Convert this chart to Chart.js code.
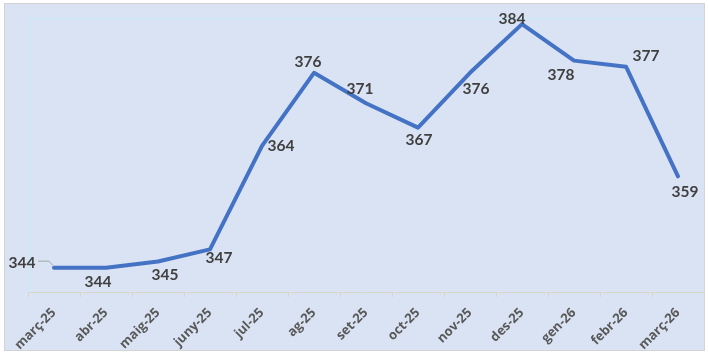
<!DOCTYPE html>
<html>
<head>
<meta charset="utf-8">
<script src="https://cdn.jsdelivr.net/npm/chart.js@4/dist/chart.umd.min.js"></script>
<style>
html,body{margin:0;padding:0;background:#ffffff;}
#wrap{width:709px;height:357px;position:relative;}
</style>
</head>
<body>
<div id="wrap"><canvas id="c" width="709" height="357"></canvas></div>
<script>
const categories = ['març-25','abr-25','maig-25','juny-25','jul-25','ag-25','set-25','oct-25','nov-25','des-25','gen-26','febr-26','març-26'];
const values = [344,344,345,347,364,376,371,367,376,384,378,377,359];
const yMin = 340;
const yMax = 385;

const framePlugin = {
  id: 'frame',
  beforeDraw(chart) {
    const ctx = chart.ctx;
    ctx.save();
    ctx.fillStyle = '#ffffff';
    ctx.fillRect(0, 0, chart.width, chart.height);
    ctx.fillStyle = '#dae3f3';
    ctx.fillRect(5, 4, 699, 346);
    ctx.strokeStyle = '#d3d3d3';
    ctx.lineWidth = 1;
    ctx.strokeRect(4.5, 3.5, 700, 347);
    const a = chart.chartArea;
    ctx.strokeStyle = '#c8ebfa';
    ctx.beginPath();
    ctx.moveTo(a.left + 0.5, a.bottom);
    ctx.lineTo(a.left + 0.5, a.top + 0.5);
    ctx.lineTo(a.right, a.top + 0.5);
    ctx.stroke();
    ctx.restore();
  }
};

const labelPlugin = {
  id: 'pointLabels',
  afterDatasetsDraw(chart, args, opts) {
    const ctx = chart.ctx;
    const meta = chart.getDatasetMeta(0);
    const ds = chart.data.datasets[0];
    ctx.save();
    ctx.font = opts.font;
    ctx.fillStyle = opts.color;
    ctx.textAlign = 'center';
    ctx.textBaseline = 'middle';
    meta.data.forEach((pt, i) => {
      const off = opts.offsets[i] || [0, -12];
      const x = pt.x + off[0];
      const y = pt.y + off[1];
      ctx.fillText(String(ds.data[i]), x, y);
      if (opts.leaders.includes(i)) {
        ctx.strokeStyle = '#a6a6a6';
        ctx.lineWidth = 1;
        ctx.beginPath();
        ctx.moveTo(x + 16, y - 1.5);
        ctx.lineTo(pt.x - 5, y - 1.5);
        ctx.lineTo(pt.x - 1, pt.y - 2);
        ctx.stroke();
      }
    });
    ctx.restore();
  }
};

new Chart(document.getElementById('c'), {
  type: 'line',
  data: {
    labels: categories,
    datasets: [{
      data: values,
      borderColor: '#4472c4',
      borderWidth: 4,
      pointRadius: 0,
      pointHoverRadius: 0,
      tension: 0,
      borderJoinStyle: 'round',
      borderCapStyle: 'round',
      fill: false,
      clip: false
    }]
  },
  options: {
    responsive: false,
    animation: false,
    devicePixelRatio: 1,
    layout: { padding: { left: 28, right: 5, top: 18, bottom: 0 } },
    plugins: {
      legend: { display: false },
      tooltip: { enabled: false },
      pointLabels: {
        font: 'bold 15.5px Lato',
        color: '#404040',
        offsets: [[-32,-5],[-8,14],[7,13],[9,9],[19,0],[-6,-11],[-6,-14],[1,12],[6,16],[-10,-5],[-13,14],[20,-11],[7,16]],
        leaders: [0]
      }
    },
    scales: {
      x: {
        type: 'category',
        offset: true,
        grid: {
          offset: true,
          drawOnChartArea: false,
          drawTicks: true,
          tickLength: 5,
          color: '#ddd5c8'
        },
        border: { display: true, color: '#ddd5c8', width: 1 },
        ticks: {
          autoSkip: false,
          maxRotation: 45,
          minRotation: 45,
          padding: 8,
          color: '#595959',
          font: { family: 'Open Sans', size: 13, weight: 'bold' }
        },
        afterFit(scale) { scale.height = 65; }
      },
      y: {
        display: false,
        min: yMin,
        max: yMax
      }
    }
  },
  plugins: [framePlugin, labelPlugin]
});
</script>
</body>
</html>
